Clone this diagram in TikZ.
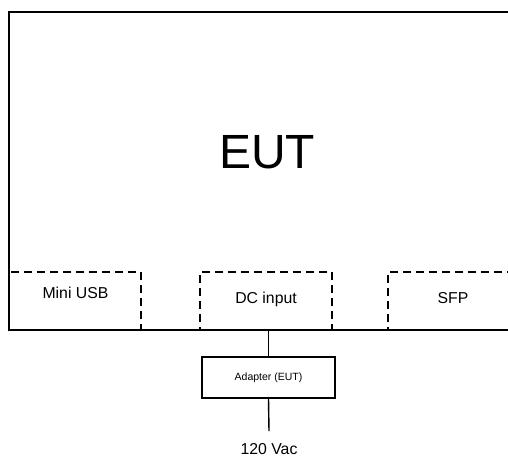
\documentclass[tikz,border=0pt]{standalone}
\usepackage{fontspec}
\setmainfont{Liberation Sans}
\usepackage{tikz}
\usetikzlibrary{positioning}

\tikzset{
	portbox/.style={draw, dash pattern=on 8pt off 5pt, line width=1.4pt, minimum width=132pt, minimum height=58pt, inner sep=0pt},
	unitbox/.style={draw, line width=1.4pt, minimum width=133pt, minimum height=41pt, inner sep=0pt},
	txt/.style={inner sep=0pt, font=\fontsize{15.8}{15.8}\selectfont},
	wire/.style={line width=1.4pt}
}

\begin{document}
\begin{tikzpicture}[x=1pt, y=-1pt]
	\useasboundingbox (0,0) rectangle (508,460);
	\clip (0,0) rectangle (508,460);
	\node[portbox] (usb) at (75,301) {};
	\node[portbox] (dc) at (266,301) {};
	\node[portbox] (sfp) at (454,301) {};
	\draw[line width=1.5pt] (9,12) rectangle (560,330);
	\node[inner sep=0pt, font=\fontsize{48}{48}\selectfont] (eut) at (267,152) {EUT};
	\node[txt] (usblabel) at (75.5,293) {Mini USB};
	\node[txt] (dclabel) at (266,299) {DC input};
	\node[txt] (sfplabel) at (453,298) {SFP};
	\node[unitbox, font=\fontsize{10.5}{10.5}\selectfont] (adapter) at (268.5,377.5) {Adapter (EUT)};
	\node[txt] (mains) at (269,449) {120 Vac};
	\draw[wire] (adapter.north |- dc.south) -- (adapter.north);
	\draw[wire] (adapter.south) -- ([yshift=12pt]mains.north);
\end{tikzpicture}
\end{document}
